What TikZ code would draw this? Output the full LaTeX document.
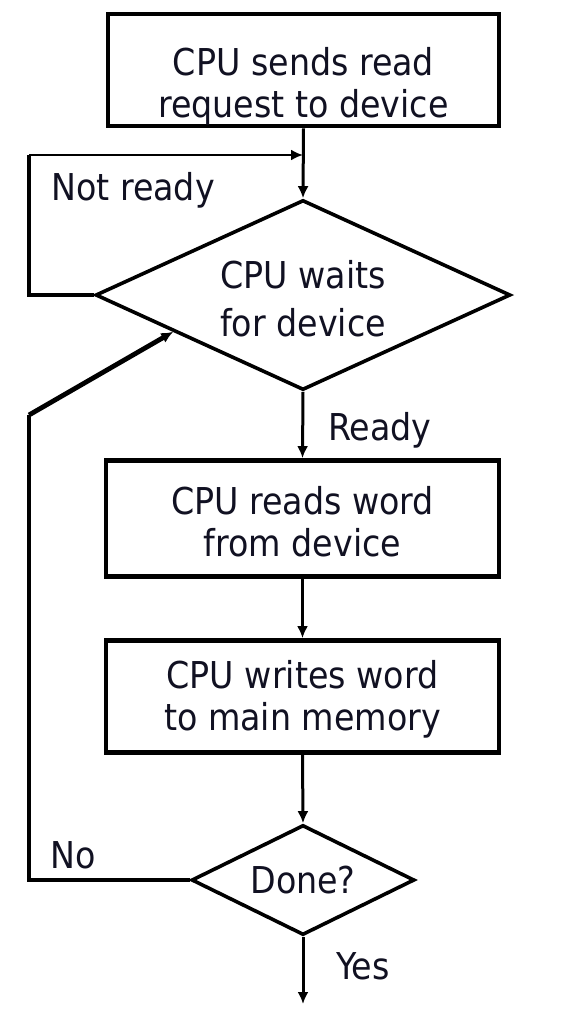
\documentclass[tikz,border=0pt]{standalone}
\usepackage{fontspec}
\setmainfont{DejaVu Sans Condensed}
\usepackage{tikz}
\usetikzlibrary{arrows.meta,positioning,calc,shapes.geometric}
\definecolor{ink}{HTML}{111122}
\tikzset{
    every picture/.style={line join=miter},
    stepbox/.style={draw=black,fill=white,line width=2.4pt,
      minimum width=192pt,minimum height=55pt,inner sep=2pt,
      font=\fontsize{18.5}{21}\selectfont,text=ink,align=center},
    decision/.style={draw=black,fill=white,diamond,shape aspect=2.2,line width=1.8pt,
      inner sep=0pt,font=\fontsize{18.5}{24}\selectfont,text=ink,align=center},
    flowarrow/.style={-{Latex[length=6pt,width=5.5pt]},draw=black,
      line width=1.5pt},
    branchlabel/.style={font=\fontsize{18.5}{21}\selectfont,text=ink,inner sep=0pt}
}
\newcommand{\droptext}[1]{\rule{0pt}{#1}}
\begin{document}
\begin{tikzpicture}[x=0.5pt,y=-0.5pt]
  \useasboundingbox (0,0) rectangle (562,1018);
  \node[stepbox,inner ysep=0pt,minimum width=195.5pt,minimum height=56pt] (send) at (303.5,70)
    {\droptext{30pt}CPU sends read\\request to device};
  \node[decision,minimum width=207.5pt,minimum height=95pt] (wait) at (303,295)
    {\droptext{18pt}CPU waits\\for device};
  \node[stepbox,minimum width=196.5pt,minimum height=58pt] (read) at (302.5,518.5)
    {\droptext{17pt}CPU reads word\\from device};
  \node[stepbox,minimum width=196.5pt,minimum height=56pt] (write) at (302.5,696.5)
    {\droptext{17pt}CPU writes word\\to main memory};
  \node[decision,minimum width=111.5pt,minimum height=55pt] (done) at (303,880)
    {Done?};
  \coordinate (join) at (303,155);
  \coordinate (exit) at (303,1004);
  \coordinate (back) at ($(wait.west)!0.38!(wait.south)$);

  \draw[flowarrow] (send.south) -- (wait.north);
  \draw[flowarrow] (wait.south) -- (read.north);
  \draw[flowarrow] (read.south) -- (write.north);
  \draw[flowarrow] (write.south) -- (done.north);
  \draw[flowarrow] (done.south) -- (exit);
  % not ready loop
  \draw[line width=2.4pt] (wait.west) -- (29,295) -- (29,155);
  \draw[flowarrow,line width=1.1pt] (29,155) -- (join);
  % no loop back
  \draw[line width=2.4pt] (done.west) -| (29,415);
  \draw[flowarrow,line width=2.4pt] (29,415) -- (back);

  \node[branchlabel] (notready) at (133,190) {Not ready};
  \node[branchlabel] (ready) at (380,430) {Ready};
  \node[branchlabel] (no) at (73,855) {No};
  \node[branchlabel] (yes) at (363,966) {Yes};
\end{tikzpicture}
\end{document}
